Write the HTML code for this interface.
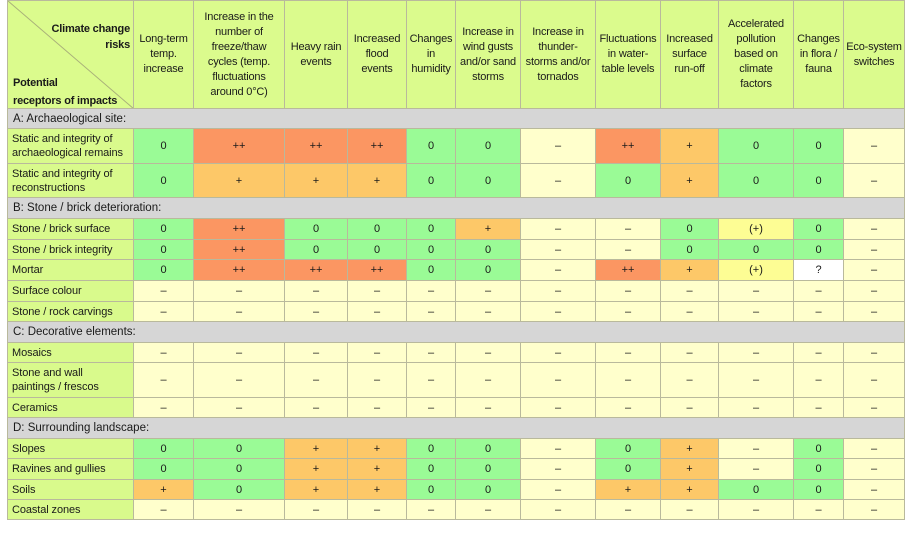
<!DOCTYPE html>
<html><head><meta charset="utf-8">
<style>
html,body{margin:0;padding:0;background:#fff;width:920px;height:541px;overflow:hidden}
table{position:absolute;left:7px;top:0;border-collapse:collapse;table-layout:fixed;width:898px;font-family:"Liberation Sans",sans-serif;font-size:11px;color:#1a1a1a}
td{border:1px solid #b9b99c;padding:0;text-align:center;vertical-align:middle;line-height:14px;overflow:hidden;white-space:nowrap}
td.l{text-align:left;padding-left:4px;background:#d9fa8c;font-size:11px;letter-spacing:-0.1px}
tr.h td{background:#dbfb8d;line-height:15px;font-size:11px;letter-spacing:-0.2px}
tr.s td{background:#d6d6d6;text-align:left;padding-left:5px;font-size:11.5px}
.G{background:#9afb96}.R{background:#fb9662}.O{background:#fdc868}.C{background:#ffffcc}.Y{background:#fdfd94}.W{background:#ffffff}
</style></head><body>
<table>
<colgroup>
<col style="width:126px"><col style="width:60px"><col style="width:91px"><col style="width:63px"><col style="width:59px"><col style="width:49px"><col style="width:65px"><col style="width:75px"><col style="width:65px"><col style="width:58px"><col style="width:75px"><col style="width:50px"><col style="width:61px">
</colgroup>
<tr class="h" style="height:108px">
<td style="position:relative;font-weight:bold;text-align:left">
<svg width="126" height="108" style="position:absolute;left:0;top:0"><line x1="0" y1="0" x2="126" y2="108" stroke="#a8b07a" stroke-width="1"/></svg>
<div style="position:absolute;right:3px;top:20px;text-align:right;line-height:16px">Climate change<br>risks</div>
<div style="position:absolute;left:5px;top:73px;line-height:18px">Potential<br>receptors of impacts</div>
</td>
<td>Long-term<br>temp.<br>increase</td>
<td>Increase in the<br>number of<br>freeze/thaw<br>cycles (temp.<br>fluctuations<br>around 0°C)</td>
<td>Heavy rain<br>events</td>
<td>Increased<br>flood<br>events</td>
<td>Changes<br>in<br>humidity</td>
<td>Increase in<br>wind gusts<br>and/or sand<br>storms</td>
<td>Increase in<br>thunder-<br>storms and/or<br>tornados</td>
<td>Fluctuations<br>in water-<br>table levels</td>
<td>Increased<br>surface<br>run-off</td>
<td>Accelerated<br>pollution<br>based on<br>climate<br>factors</td>
<td>Changes<br>in flora /<br>fauna</td>
<td>Eco-system<br>switches</td>
</tr>
<tr class="s" style="height:20px"><td colspan="13">A: Archaeological site:</td></tr>
<tr style="height:35px"><td class="l">Static and integrity of<br>archaeological remains</td><td class="G">0</td><td class="R">++</td><td class="R">++</td><td class="R">++</td><td class="G">0</td><td class="G">0</td><td class="C">–</td><td class="R">++</td><td class="O">+</td><td class="G">0</td><td class="G">0</td><td class="C">–</td></tr>
<tr style="height:34px"><td class="l">Static and integrity of<br>reconstructions</td><td class="G">0</td><td class="O">+</td><td class="O">+</td><td class="O">+</td><td class="G">0</td><td class="G">0</td><td class="C">–</td><td class="G">0</td><td class="O">+</td><td class="G">0</td><td class="G">0</td><td class="C">–</td></tr>
<tr class="s" style="height:21px"><td colspan="13">B: Stone / brick deterioration:</td></tr>
<tr style="height:21px"><td class="l">Stone / brick surface</td><td class="G">0</td><td class="R">++</td><td class="G">0</td><td class="G">0</td><td class="G">0</td><td class="O">+</td><td class="C">–</td><td class="C">–</td><td class="G">0</td><td class="Y">(+)</td><td class="G">0</td><td class="C">–</td></tr>
<tr style="height:20px"><td class="l">Stone / brick integrity</td><td class="G">0</td><td class="R">++</td><td class="G">0</td><td class="G">0</td><td class="G">0</td><td class="G">0</td><td class="C">–</td><td class="C">–</td><td class="G">0</td><td class="G">0</td><td class="G">0</td><td class="C">–</td></tr>
<tr style="height:21px"><td class="l">Mortar</td><td class="G">0</td><td class="R">++</td><td class="R">++</td><td class="R">++</td><td class="G">0</td><td class="G">0</td><td class="C">–</td><td class="R">++</td><td class="O">+</td><td class="Y">(+)</td><td class="W">?</td><td class="C">–</td></tr>
<tr style="height:21px"><td class="l">Surface colour</td><td class="C">–</td><td class="C">–</td><td class="C">–</td><td class="C">–</td><td class="C">–</td><td class="C">–</td><td class="C">–</td><td class="C">–</td><td class="C">–</td><td class="C">–</td><td class="C">–</td><td class="C">–</td></tr>
<tr style="height:20px"><td class="l">Stone / rock carvings</td><td class="C">–</td><td class="C">–</td><td class="C">–</td><td class="C">–</td><td class="C">–</td><td class="C">–</td><td class="C">–</td><td class="C">–</td><td class="C">–</td><td class="C">–</td><td class="C">–</td><td class="C">–</td></tr>
<tr class="s" style="height:21px"><td colspan="13">C: Decorative elements:</td></tr>
<tr style="height:20px"><td class="l">Mosaics</td><td class="C">–</td><td class="C">–</td><td class="C">–</td><td class="C">–</td><td class="C">–</td><td class="C">–</td><td class="C">–</td><td class="C">–</td><td class="C">–</td><td class="C">–</td><td class="C">–</td><td class="C">–</td></tr>
<tr style="height:35px"><td class="l">Stone and wall<br>paintings / frescos</td><td class="C">–</td><td class="C">–</td><td class="C">–</td><td class="C">–</td><td class="C">–</td><td class="C">–</td><td class="C">–</td><td class="C">–</td><td class="C">–</td><td class="C">–</td><td class="C">–</td><td class="C">–</td></tr>
<tr style="height:20px"><td class="l">Ceramics</td><td class="C">–</td><td class="C">–</td><td class="C">–</td><td class="C">–</td><td class="C">–</td><td class="C">–</td><td class="C">–</td><td class="C">–</td><td class="C">–</td><td class="C">–</td><td class="C">–</td><td class="C">–</td></tr>
<tr class="s" style="height:21px"><td colspan="13">D: Surrounding landscape:</td></tr>
<tr style="height:20px"><td class="l">Slopes</td><td class="G">0</td><td class="G">0</td><td class="O">+</td><td class="O">+</td><td class="G">0</td><td class="G">0</td><td class="C">–</td><td class="G">0</td><td class="O">+</td><td class="C">–</td><td class="G">0</td><td class="C">–</td></tr>
<tr style="height:21px"><td class="l">Ravines and gullies</td><td class="G">0</td><td class="G">0</td><td class="O">+</td><td class="O">+</td><td class="G">0</td><td class="G">0</td><td class="C">–</td><td class="G">0</td><td class="O">+</td><td class="C">–</td><td class="G">0</td><td class="C">–</td></tr>
<tr style="height:20px"><td class="l">Soils</td><td class="O">+</td><td class="G">0</td><td class="O">+</td><td class="O">+</td><td class="G">0</td><td class="G">0</td><td class="C">–</td><td class="O">+</td><td class="O">+</td><td class="G">0</td><td class="G">0</td><td class="C">–</td></tr>
<tr style="height:20px"><td class="l">Coastal zones</td><td class="C">–</td><td class="C">–</td><td class="C">–</td><td class="C">–</td><td class="C">–</td><td class="C">–</td><td class="C">–</td><td class="C">–</td><td class="C">–</td><td class="C">–</td><td class="C">–</td><td class="C">–</td></tr>
</table>
</body></html>
